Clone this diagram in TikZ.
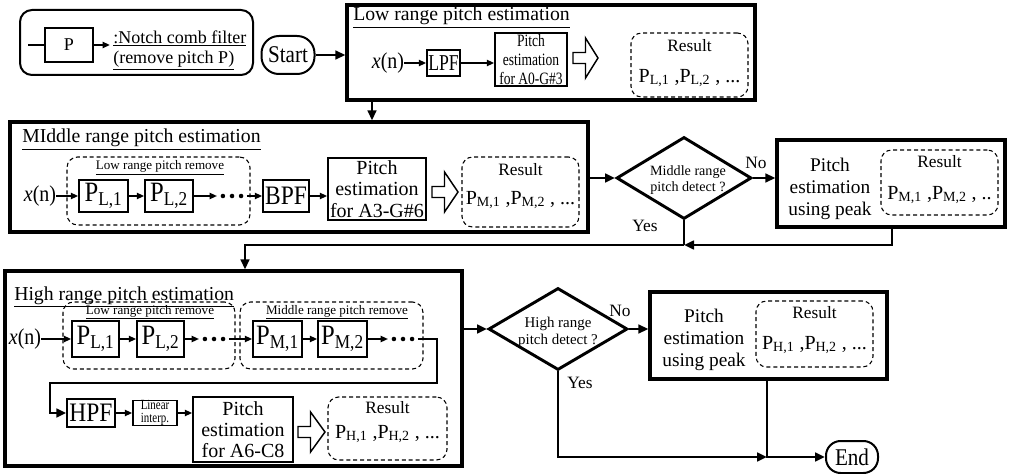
\documentclass[tikz,border=0pt]{standalone}
\usepackage{fontspec}
\setmainfont{Liberation Serif}
\newfontfamily\narrowA{Liberation Serif}[FakeStretch=0.78]
\newfontfamily\narrowB{Liberation Serif}[FakeStretch=0.88]
\usetikzlibrary{arrows.meta,shapes.geometric,calc}

\newcommand\fsz[2]{\fontsize{#1}{#2}\selectfont}
% hollow block arrow: tail x, tip x, centre y
\newcommand\hollowarrow[3]{%
  \draw[hollow] (#1,#3-5.5) -- (#1+12.5,#3-5.5) -- (#1+12.5,#3-20) -- (#2,#3)
    -- (#1+12.5,#3+20) -- (#1+12.5,#3+5.5) -- (#1,#3+5.5) -- cycle;}

\tikzset{
  sz/.style 2 args={minimum width=#1*0.75pt, minimum height=#2*0.75pt},
  frame/.style={draw, line width=2.4pt, inner sep=0pt},
  blk/.style={draw, line width=1.1pt, inner sep=0pt, align=center},
  res/.style={draw, dash pattern=on 3pt off 2.2pt, line width=0.8pt, rounded corners=8pt, inner sep=0pt},
  txt/.style={inner sep=0pt, align=center},
  dia/.style={draw, diamond, line width=2.2pt, inner sep=0pt},
  conn/.style={line width=2pt, -{Triangle[length=7.5pt,width=6.5pt]}},
  sconn/.style={line width=1.4pt, -{Triangle[length=5.5pt,width=4.5pt]}},
  plain/.style={line width=2pt},
  hollow/.style={draw, line width=1.1pt, fill=white, line join=miter},
  dots/.style={inner sep=0pt, minimum width=22pt, minimum height=5pt,
    path picture={\foreach \d in {-6.8pt,0pt,6.8pt}
      {\fill ([xshift=\d]path picture bounding box.center) circle[radius=1.7pt];}}},
  pbox/.style={blk, font=\narrowB\fsz{21}{23}},
  filt/.style={blk, font=\narrowB\fsz{20}{22}},
  xin/.style={txt, font=\narrowB\fsz{17}{19}},
  term/.style={draw, line width=1.5pt, inner sep=0pt, font=\narrowB\fsz{18}{20}},
  restxt/.style={txt, font=\fsz{13}{15}},
  plist/.style={txt, font=\fsz{15}{17}},
  title/.style={txt, anchor=base west, font=\fsz{14.8}{17}},
  sublabel/.style={txt, anchor=base, font=\fsz{9.8}{11}},
  yn/.style={txt, font=\fsz{13}{15}},
}

\begin{document}
\begin{tikzpicture}[x=0.75pt, y=-0.75pt]
\useasboundingbox (0,0) rectangle (1010,474);
\fill[white] (0,0) rectangle (1010,474);

% ---------- legend ----------
\node[draw, line width=1.5pt, rounded corners=9pt, sz={233}{65}, inner sep=0pt] (legend) at (136.5,42.5) {};
\node[blk, sz={48}{34}, font=\fsz{13.5}{15}] (lp) at (69,45) {P};
\coordinate (legin) at (28,45);
\coordinate (legout) at (110,45);
\draw[line width=1.4pt] (legin) -- (lp.west);
\draw[sconn] (lp.east) -- (legout);
\node[txt, anchor=west, align=left, font=\fsz{13.5}{15}] (legtext) at (113,50)
  {\underline{:Notch comb filter}\\\underline{(remove pitch P)}};

% ---------- start ----------
\node[term, rounded corners=13pt, sz={53}{38}] (start) at (288,55) {Start};

% ---------- low range ----------
\node[frame, sz={408}{95}] (low) at (551,52.5) {};
\node[title] (lowt) at (353,21) {\underline{Low range pitch estimation}};
\node[xin] (lx) at (388,63) {\textit{x}(n)};
\node[blk, sz={33}{26}, font=\narrowA\fsz{17}{19}] (lpf) at (443.5,63) {LPF};
\node[blk, sz={72}{53}, font=\narrowA\fsz{13}{14}] (lpe) at (531,59.5) {Pitch\\estimation\\for A0-G\#3};
\hollowarrow{573}{598}{58}
\node[res, sz={117}{64}] (lres) at (689.5,65) {};
\node[restxt] (lrest) at (689.5,46) {Result};
\node[plist] (lresp) at (689.5,78) {P\textsubscript{L,1} ,P\textsubscript{L,2} , ...};

\draw[conn] (start.east) -- (start.east -| low.west);
\draw[sconn] (lx.east) -- (lpf.west);
\draw[sconn] (lpf.east) -- (lpf.east -| lpe.west);

% ---------- middle range ----------
\coordinate (c1) at (372,0);
\node[frame, sz={578}{110}] (mid) at (299,177) {};
\node[title] (midt) at (22,143) {\underline{MIddle range pitch estimation}};
\node[res, sz={183}{68}] (mlr) at (158.5,191) {};
\node[sublabel] (mlrt) at (160,170) {\underline{Low range pitch remove}};
\node[xin] (mx) at (40,196) {\textit{x}(n)};
\node[pbox, sz={49}{32}] (mp1) at (103.5,196) {P\textsubscript{L,1}};
\node[pbox, sz={48}{32}] (mp2) at (169,196) {P\textsubscript{L,2}};
\node[dots] (mdots) at (232,196) {};
\node[filt, sz={46}{32}] (bpf) at (286,196) {BPF};
\node[blk, sz={98}{62}, font=\fsz{15}{16}] (mpe) at (377,189) {Pitch\\estimation\\for A3-G\#6};
\hollowarrow{432}{458}{192}
\node[res, sz={117}{70}] (mres) at (520.5,192) {};
\node[restxt] (mrest) at (520.5,170) {Result};
\node[plist] (mresp) at (520.5,200) {P\textsubscript{M,1} ,P\textsubscript{M,2} , ...};

\draw[conn] (low.south -| c1) -- (mid.north -| c1);
\draw[sconn] (mx.east) -- (mp1.west);
\draw[sconn] (mp1.east) -- (mp2.west);
\draw[sconn] (mp2.east) -- (mdots.west);
\draw[sconn] (mdots.east) -- (bpf.west);
\draw[sconn] (bpf.east) -- (bpf.east -| mpe.west);

% middle decision
\node[dia, sz={135}{82}] (md) at (684,178) {};
\node[txt, font=\fsz{10.6}{12}] (mdt) at (688,180) {Middle range\\pitch detect ?};
\node[yn] (mno) at (756,163) {No};
\node[yn] (myes) at (645,226) {Yes};
\node[frame, sz={228}{87}] (mpk) at (891,183.5) {};
\node[txt, font=\fsz{14.5}{16.5}] (mpkt) at (830,189) {Pitch\\estimation\\using peak};
\node[res, sz={117}{65}] (mpres) at (939.5,182.5) {};
\node[restxt] (mprest) at (939.5,162) {Result};
\node[plist] (mpresp) at (939.5,195) {P\textsubscript{M,1} ,P\textsubscript{M,2} , ..};

\draw[conn] (md.west -| mid.east) -- (md.west);
\draw[conn] (md.east) -- (md.east -| mpk.west);

% ---------- high range ----------
\node[frame, sz={457}{195}] (high) at (233.5,368.5) {};
\node[title] (hight) at (14,300) {\underline{High range pitch estimation}};
\node[res, sz={172}{67}] (hlr) at (149,335.5) {};
\node[sublabel] (hlrt) at (150,314) {\underline{Low range pitch remove}};
\node[res, sz={183}{67}] (hmr) at (331.5,335.5) {};
\node[sublabel] (hmrt) at (337,314) {\underline{Middle range pitch remove}};
\node[xin] (hx) at (25,339) {\textit{x}(n)};
\node[pbox, sz={47}{36}] (hp1) at (95.5,339) {P\textsubscript{L,1}};
\node[pbox, sz={47}{36}] (hp2) at (160.5,339) {P\textsubscript{L,2}};
\node[dots] (hdots1) at (214,339) {};
\node[pbox, sz={49}{36}] (hp3) at (277.5,339) {P\textsubscript{M,1}};
\node[pbox, sz={49}{36}] (hp4) at (342.5,339) {P\textsubscript{M,2}};
\node[dots] (hdots2) at (403,339) {};
\coordinate (hturn) at (437,383);
\coordinate (hback) at (50,383);
\node[filt, sz={48}{28}] (hpf) at (91,413) {HPF};
\node[blk, sz={44}{25}, font=\narrowA\fsz{10.5}{9.5}] (lint) at (155,413) {Linear\\interp.};
\node[blk, sz={100}{65}, font=\fsz{15}{16}] (hpe) at (243,429.5) {Pitch\\estimation\\for A6-C8};
\hollowarrow{298}{325}{432}
\node[res, sz={119}{63}] (hres) at (387.5,428.5) {};
\node[restxt] (hrest) at (387.5,408) {Result};
\node[plist] (hresp) at (387.5,434) {P\textsubscript{H,1} ,P\textsubscript{H,2} , ...};

\draw[sconn] (hx.east) -- (hp1.west);
\draw[sconn] (hp1.east) -- (hp2.west);
\draw[sconn] (hp2.east) -- (hdots1.west);
\draw[sconn] (hdots1.east) -- (hp3.west);
\draw[sconn] (hp3.east) -- (hp4.west);
\draw[sconn] (hp4.east) -- (hdots2.west);
\draw[conn] (hdots2.east) -| (hturn) -- (hback) |- (hpf.west);
\draw[sconn] (hpf.east) -- (lint.west);
\draw[sconn] (lint.east) -- (lint.east -| hpe.west);

% middle decision outcomes feed the high range stage
\coordinate (mj) at (684,245);
\coordinate (c2) at (245,0);
\coordinate (c3) at (892,0);
\draw[plain] (md.south) -- (mj);
\draw[conn] (mj) -| (high.north -| c2);
\draw[conn] (mpk.south -| c3) |- (mj);

% high decision
\node[dia, sz={139}{82}] (hd) at (558,329) {};
\node[txt, font=\fsz{11.2}{12.75}] (hdt) at (558,332) {High range\\pitch detect ?};
\node[yn] (hno) at (620,311) {No};
\node[yn] (hyes) at (580,383) {Yes};
\node[frame, sz={237}{87}] (hpk) at (768.5,335.5) {};
\node[txt, font=\fsz{14.5}{16.5}] (hpkt) at (704,340) {Pitch\\estimation\\using peak};
\node[res, sz={117}{66}] (hpres) at (814.5,334) {};
\node[restxt] (hprest) at (814.5,313) {Result};
\node[plist] (hpresp) at (814.5,345) {P\textsubscript{H,1} ,P\textsubscript{H,2} , ...};

\draw[conn] (hd.west -| high.east) -- (hd.west);
\draw[conn] (hd.east) -- (hd.east -| hpk.west);

% ---------- end ----------
\node[term, rounded corners=11pt, sz={52}{32}] (endn) at (852,457) {End};
\coordinate (hj) at (767,457);
\draw[conn] (hd.south) |- (hj);
\draw[conn] (hpk.south -| hj) |- (endn.west);
\end{tikzpicture}
\end{document}
